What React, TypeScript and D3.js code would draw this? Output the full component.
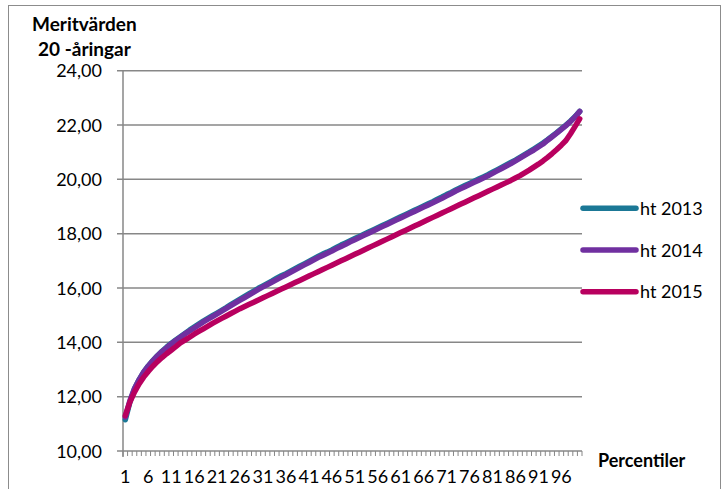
import React from "react";
import * as d3 from "d3";

const percentiles: number[] = Array.from({ length: 100 }, (_, i) => i + 1);

const ht2013: number[] = [
  11.15, 11.8, 12.28, 12.62, 12.9, 13.13, 13.33, 13.51, 13.67, 13.82,
  13.96, 14.09, 14.21, 14.33, 14.45, 14.56, 14.67, 14.78, 14.88, 14.98,
  15.08, 15.18, 15.28, 15.39, 15.49, 15.59, 15.69, 15.79, 15.89, 15.99,
  16.08, 16.17, 16.26, 16.36, 16.45, 16.53, 16.62, 16.71, 16.8, 16.89,
  16.98, 17.07, 17.16, 17.25, 17.32, 17.4, 17.49, 17.58, 17.66, 17.74,
  17.82, 17.9, 17.98, 18.06, 18.14, 18.22, 18.3, 18.38, 18.46, 18.54,
  18.62, 18.7, 18.78, 18.86, 18.94, 19.02, 19.1, 19.18, 19.27, 19.35,
  19.44, 19.52, 19.61, 19.69, 19.77, 19.85, 19.93, 20.01, 20.09, 20.17,
  20.26, 20.35, 20.44, 20.53, 20.62, 20.71, 20.81, 20.91, 21.01, 21.12,
  21.23, 21.34, 21.46, 21.59, 21.72, 21.86, 22.0, 22.15, 22.31, 22.5,
];

const ht2014: number[] = [
  11.25, 11.85, 12.3, 12.62, 12.9, 13.12, 13.32, 13.5, 13.66, 13.8,
  13.94, 14.07, 14.19, 14.31, 14.42, 14.53, 14.64, 14.75, 14.85, 14.95,
  15.05, 15.15, 15.25, 15.35, 15.45, 15.55, 15.65, 15.75, 15.85, 15.95,
  16.04, 16.13, 16.22, 16.31, 16.4, 16.49, 16.58, 16.67, 16.76, 16.85,
  16.94, 17.03, 17.12, 17.2, 17.28, 17.36, 17.45, 17.53, 17.61, 17.7,
  17.78, 17.86, 17.94, 18.02, 18.1, 18.18, 18.26, 18.34, 18.42, 18.5,
  18.58, 18.66, 18.74, 18.82, 18.9, 18.98, 19.06, 19.14, 19.22, 19.3,
  19.39, 19.48, 19.57, 19.65, 19.73, 19.81, 19.89, 19.97, 20.05, 20.13,
  20.22, 20.31, 20.4, 20.49, 20.58, 20.68, 20.78, 20.88, 20.98, 21.08,
  21.19, 21.3, 21.44, 21.57, 21.7, 21.84, 21.98, 22.13, 22.3, 22.5,
];

const ht2015: number[] = [
  11.3, 11.8, 12.17, 12.47, 12.72, 12.93, 13.12, 13.29, 13.44, 13.58,
  13.71, 13.84, 13.98, 14.08, 14.19, 14.3, 14.4, 14.5, 14.6, 14.7,
  14.79, 14.88, 14.97, 15.06, 15.15, 15.24, 15.32, 15.4, 15.48, 15.56,
  15.64, 15.72, 15.8, 15.88, 15.96, 16.04, 16.12, 16.2, 16.28, 16.36,
  16.44, 16.52, 16.6, 16.68, 16.76, 16.84, 16.92, 17.0, 17.08, 17.16,
  17.24, 17.32, 17.4, 17.48, 17.56, 17.64, 17.72, 17.8, 17.88, 17.96,
  18.04, 18.12, 18.2, 18.28, 18.36, 18.44, 18.52, 18.6, 18.68, 18.76,
  18.84, 18.92, 19.0, 19.08, 19.16, 19.24, 19.32, 19.4, 19.48, 19.56,
  19.64, 19.72, 19.8, 19.88, 19.96, 20.05, 20.14, 20.24, 20.34, 20.45,
  20.56, 20.68, 20.81, 20.95, 21.1, 21.26, 21.43, 21.68, 21.95, 22.23,
];

const seriesNames: string[] = ["ht 2013", "ht 2014", "ht 2015"];
const seriesColors: string[] = ["#1b7896", "#7030a0", "#b8005f"];
const yTicks: number[] = [10, 12, 14, 16, 18, 20, 22, 24];
const xLabelEvery = 5;

const FONT = "Lato, 'Open Sans', sans-serif";

export default function App() {
  const left = 123;
  const right = 582;
  const top = 70.7;
  const bottom = 451;

  const x = d3
    .scaleBand<number>()
    .domain(percentiles)
    .range([left, right])
    .paddingInner(0)
    .paddingOuter(0);
  const y = d3.scaleLinear().domain([10, 24]).range([bottom, top]);

  const allSeries = [ht2013, ht2014, ht2015];
  const line = d3
    .line<number>()
    .x((_, i) => (x(percentiles[i]) as number) + x.bandwidth() / 2)
    .y((d) => y(d));

  const grid = "#878787";
  const fmt = (v: number) => v.toFixed(2).replace(".", ",");

  const catTicks = [...percentiles.map((p) => x(p) as number), right];

  const legendYs = [208.3, 250, 291.7];

  return (
    <svg
      width={722}
      height={489}
      style={{ position: "absolute", left: 0, top: 0, background: "#fff" }}
      fontFamily={FONT}
    >
      <rect x={8.5} y={5.5} width={712} height={500} fill="#fff" stroke="#8c8c8c" strokeWidth={1} />

      {/* gridlines */}
      {yTicks.map((t) => (
        <line key={"g" + t} x1={left - 6} x2={right} y1={y(t)} y2={y(t)} stroke={grid} strokeWidth={1.5} />
      ))}
      {/* y axis */}
      <line x1={left} x2={left} y1={top} y2={bottom + 6} stroke={grid} strokeWidth={1.5} />
      {/* x ticks */}
      {catTicks.map((cx, i) => (
        <line key={"xt" + i} x1={cx} x2={cx} y1={bottom} y2={bottom + 5} stroke={grid} strokeWidth={1} />
      ))}

      {/* y labels */}
      {yTicks.map((t) => (
        <text key={"yl" + t} x={102} y={y(t) + 6.5} textAnchor="end" fontSize={18} fill="#000">
          {fmt(t)}
        </text>
      ))}

      {/* x labels */}
      {percentiles
        .filter((p) => (p - 1) % xLabelEvery === 0)
        .map((p) => (
          <text
            key={"xl" + p}
            x={(x(p) as number) + x.bandwidth() / 2}
            y={483}
            textAnchor="middle"
            fontSize={18}
            fill="#000"
          >
            {p}
          </text>
        ))}

      {/* series */}
      {allSeries.map((s, k) => (
        <path
          key={"s" + k}
          d={line(s) as string}
          fill="none"
          stroke={seriesColors[k]}
          strokeWidth={5.5}
          strokeLinejoin="round"
          strokeLinecap="round"
        />
      ))}

      {/* legend */}
      {seriesNames.map((n, k) => (
        <g key={"lg" + k}>
          <line
            x1={583}
            x2={636}
            y1={legendYs[k]}
            y2={legendYs[k]}
            stroke={seriesColors[k]}
            strokeWidth={5.5}
            strokeLinecap="round"
          />
          <text x={640} y={legendYs[k] + 6.5} fontSize={18} fill="#000">
            {n}
          </text>
        </g>
      ))}

      {/* titles */}
      <text x={32} y={31} fontSize={19} fontWeight="bold" fill="#000">
        Meritvärden
      </text>
      <text x={38} y={56} fontSize={19} fontWeight="bold" fill="#000">
        20 -åringar
      </text>
      <text x={598} y={467} fontSize={18} fontWeight="bold" fill="#000">
        Percentiler
      </text>
    </svg>
  );
}
